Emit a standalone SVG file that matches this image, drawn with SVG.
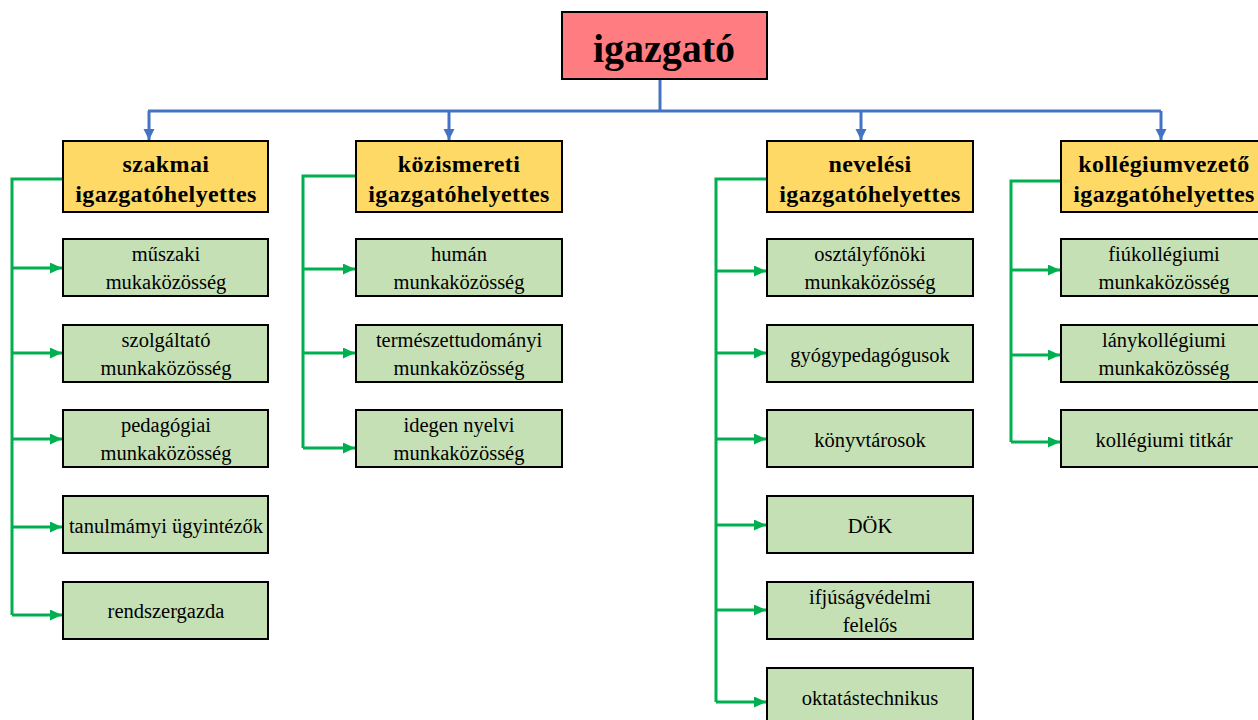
<svg xmlns="http://www.w3.org/2000/svg" width="1258" height="720" viewBox="0 0 1258 720">
<style>
.box{stroke:#000;stroke-width:2}
.top{fill:#FF7C80}
.dep{fill:#FFD966}
.sub{fill:#C5E0B4}
.t{font-family:"Liberation Serif","Times New Roman",serif;fill:#000;text-anchor:middle}
.tt{font-size:40px;font-weight:bold}
.td{font-size:24px;font-weight:bold;letter-spacing:0.4px}
.ts{font-size:20.5px}
.bl{fill:none;stroke:#4472C4;stroke-width:3}
.gl{fill:none;stroke:#00B050;stroke-width:3}
</style>
<defs>
<marker id="ab" markerUnits="userSpaceOnUse" markerWidth="12" markerHeight="12" refX="11" refY="5.5" orient="auto"><path d="M0,0 L11,5.5 L0,11 z" fill="#4472C4"/></marker>
<marker id="ag" markerUnits="userSpaceOnUse" markerWidth="13" markerHeight="12" refX="12" refY="5.5" orient="auto"><path d="M0,0 L12,5.5 L0,11 z" fill="#00B050"/></marker>
</defs>
<g id="connectors">
<path class="bl" d="M660,80 V111"/>
<path class="bl" d="M148,111 H1161"/>
<path class="bl" d="M149,111 V140" marker-end="url(#ab)"/>
<path class="bl" d="M449,111 V140" marker-end="url(#ab)"/>
<path class="bl" d="M861,111 V140" marker-end="url(#ab)"/>
<path class="bl" d="M1161,111 V140" marker-end="url(#ab)"/>
<path class="gl" d="M63,179 H12 V615"/>
<path class="gl" d="M12,268 H62" marker-end="url(#ag)"/>
<path class="gl" d="M12,353 H62" marker-end="url(#ag)"/>
<path class="gl" d="M12,439 H62" marker-end="url(#ag)"/>
<path class="gl" d="M12,527 H62" marker-end="url(#ag)"/>
<path class="gl" d="M12,615 H62" marker-end="url(#ag)"/>
<path class="gl" d="M356,176 H303 V448"/>
<path class="gl" d="M303,269 H355" marker-end="url(#ag)"/>
<path class="gl" d="M303,353 H355" marker-end="url(#ag)"/>
<path class="gl" d="M303,448 H355" marker-end="url(#ag)"/>
<path class="gl" d="M767,179 H716 V702"/>
<path class="gl" d="M716,271 H766" marker-end="url(#ag)"/>
<path class="gl" d="M716,353 H766" marker-end="url(#ag)"/>
<path class="gl" d="M716,439 H766" marker-end="url(#ag)"/>
<path class="gl" d="M716,525 H766" marker-end="url(#ag)"/>
<path class="gl" d="M716,610 H766" marker-end="url(#ag)"/>
<path class="gl" d="M716,702 H766" marker-end="url(#ag)"/>
<path class="gl" d="M1061,181 H1011 V442"/>
<path class="gl" d="M1011,270 H1060" marker-end="url(#ag)"/>
<path class="gl" d="M1011,355 H1060" marker-end="url(#ag)"/>
<path class="gl" d="M1011,442 H1060" marker-end="url(#ag)"/>
</g>
<g id="igazgato"><rect class="box top" x="562" y="12" width="205" height="67"/><text class="t tt" x="664" y="62">igazgató</text></g>
<g id="szakmai"><rect class="box dep" x="63" y="141" width="205" height="71"/><text class="t td" x="166" y="172">szakmai</text><text class="t td" x="166" y="202">igazgatóhelyettes</text></g>
<g id="kozismereti"><rect class="box dep" x="356" y="141" width="206" height="71"/><text class="t td" x="459" y="172">közismereti</text><text class="t td" x="459" y="202">igazgatóhelyettes</text></g>
<g id="nevelesi"><rect class="box dep" x="767" y="141" width="206" height="71"/><text class="t td" x="870" y="172">nevelési</text><text class="t td" x="870" y="202">igazgatóhelyettes</text></g>
<g id="kollegiumvezeto"><rect class="box dep" x="1061" y="141" width="205" height="71"/><text class="t td" x="1164" y="172">kollégiumvezető</text><text class="t td" x="1164" y="202">igazgatóhelyettes</text></g>

<g id="muszaki"><rect class="box sub" x="63" y="239" width="205" height="57"/><text class="t ts" x="166" y="261">műszaki</text><text class="t ts" x="166" y="289">mukaközösség</text></g>
<g id="szolgaltato"><rect class="box sub" x="63" y="325" width="205" height="57"/><text class="t ts" x="166" y="347">szolgáltató</text><text class="t ts" x="166" y="375">munkaközösség</text></g>
<g id="pedagogiai"><rect class="box sub" x="63" y="410" width="205" height="57"/><text class="t ts" x="166" y="432">pedagógiai</text><text class="t ts" x="166" y="460">munkaközösség</text></g>
<g id="tanulmanyi"><rect class="box sub" x="63" y="496" width="205" height="57"/><text class="t ts" x="166" y="533">tanulmámyi ügyintézők</text></g>
<g id="rendszergazda"><rect class="box sub" x="63" y="582" width="205" height="57"/><text class="t ts" x="166" y="618">rendszergazda</text></g>

<g id="human"><rect class="box sub" x="356" y="239" width="206" height="57"/><text class="t ts" x="459" y="261">humán</text><text class="t ts" x="459" y="289">munkaközösség</text></g>
<g id="termeszettudomanyi"><rect class="box sub" x="356" y="325" width="206" height="57"/><text class="t ts" x="459" y="347">természettudományi</text><text class="t ts" x="459" y="375">munkaközösség</text></g>
<g id="idegen"><rect class="box sub" x="356" y="410" width="206" height="57"/><text class="t ts" x="459" y="432">idegen nyelvi</text><text class="t ts" x="459" y="460">munkaközösség</text></g>

<g id="osztalyfonoki"><rect class="box sub" x="767" y="239" width="206" height="57"/><text class="t ts" x="870" y="261">osztályfőnöki</text><text class="t ts" x="870" y="289">munkaközösség</text></g>
<g id="gyogypedagogusok"><rect class="box sub" x="767" y="325" width="206" height="57"/><text class="t ts" x="870" y="362">gyógypedagógusok</text></g>
<g id="konyvtarosok"><rect class="box sub" x="767" y="410" width="206" height="57"/><text class="t ts" x="870" y="447">könyvtárosok</text></g>
<g id="dok"><rect class="box sub" x="767" y="496" width="206" height="57"/><text class="t ts" x="870" y="533">DÖK</text></g>
<g id="ifjusagvedelmi"><rect class="box sub" x="767" y="582" width="206" height="57"/><text class="t ts" x="870" y="604">ifjúságvédelmi</text><text class="t ts" x="870" y="632">felelős</text></g>
<g id="oktatastechnikus"><rect class="box sub" x="767" y="668" width="206" height="60"/><text class="t ts" x="870" y="705">oktatástechnikus</text></g>

<g id="fiukollegiumi"><rect class="box sub" x="1061" y="239" width="205" height="57"/><text class="t ts" x="1164" y="261">fiúkollégiumi</text><text class="t ts" x="1164" y="289">munkaközösség</text></g>
<g id="lanykollegiumi"><rect class="box sub" x="1061" y="325" width="205" height="57"/><text class="t ts" x="1164" y="347">lánykollégiumi</text><text class="t ts" x="1164" y="375">munkaközösség</text></g>
<g id="kollegiumi-titkar"><rect class="box sub" x="1061" y="410" width="205" height="57"/><text class="t ts" x="1164" y="447">kollégiumi titkár</text></g>
</svg>
